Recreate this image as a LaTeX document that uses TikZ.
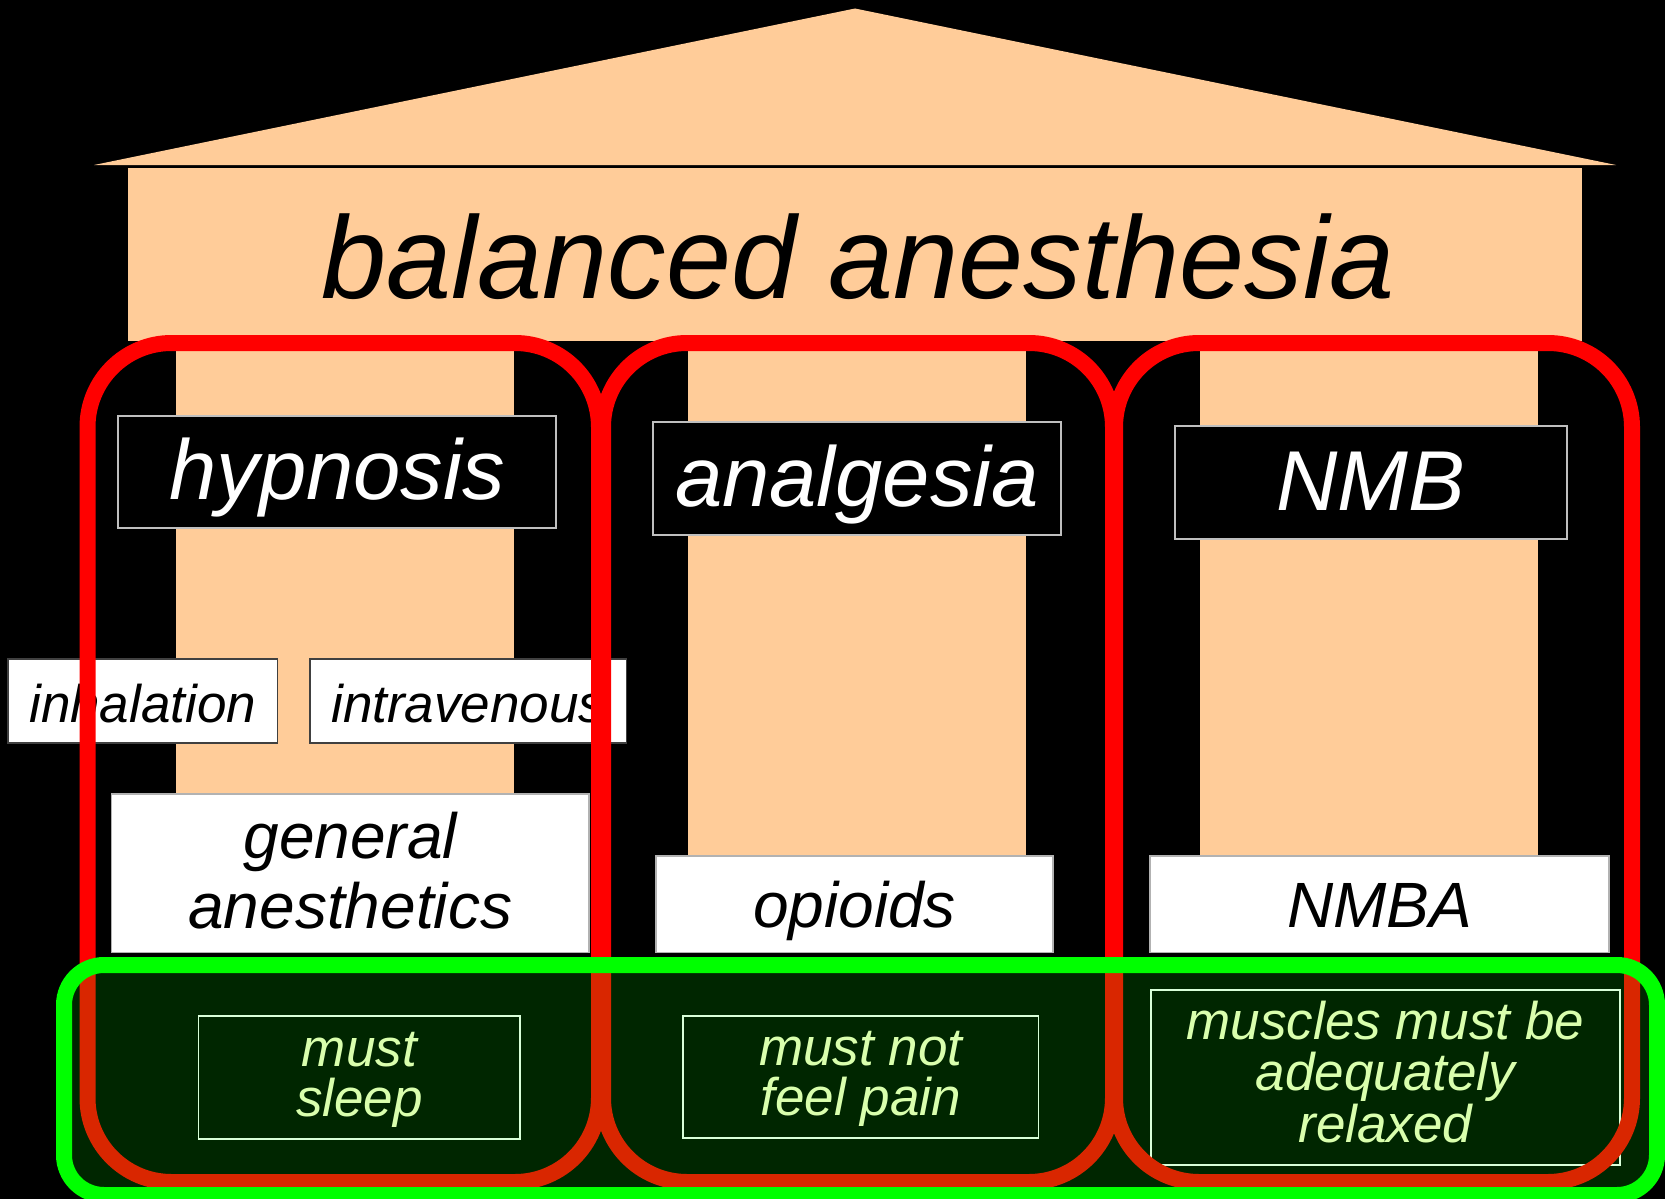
\documentclass[tikz,border=0pt]{standalone}
\usepackage{fontspec}
\setmainfont{Liberation Sans}
\newcommand\stacklines[1]{\vtop{\halign{\hfil##\hfil\cr#1\crcr}}}
\definecolor{peach}{HTML}{FFCC99}
\definecolor{paleyellow}{HTML}{FFFFCC}
\definecolor{lime}{HTML}{00FF00}
\definecolor{pureRed}{HTML}{FF0000}
\begin{document}
\begin{tikzpicture}[x=1pt,y=-1pt,
  pillar/.style={fill=peach},
  labelbox/.style={draw=gray!50!white, line width=1.5pt, fill=black, text=white,
    font=\fontsize{85}{90}\selectfont\itshape, inner sep=0pt,
    text height=60pt, text depth=5pt},
  routebox/.style={draw=black!75, line width=1.5pt, fill=white, text=black,
    font=\fontsize{53}{58}\selectfont\itshape, inner sep=0pt,
    text height=46pt, text depth=4pt},
  drugbox/.style={draw=gray!60, line width=1.5pt, fill=white, text=black,
    font=\fontsize{64}{70}\selectfont\itshape, inner sep=0pt},
  needbox/.style={draw=white, line width=1.5pt, text=paleyellow,
    font=\fontsize{53}{50}\selectfont\itshape, inner sep=0pt},
  redframe/.style={draw=pureRed, line width=16pt, rounded corners=84pt},
  greenframe/.style={draw=lime, line width=16pt, rounded corners=40pt,
    fill=lime, fill opacity=0.15, draw opacity=1}
]
\useasboundingbox (0,0) rectangle (1665,1199);
\fill[black] (0,0) rectangle (1665,1199);

% roof and entablature
\fill[pillar] (94,165) -- (855,8.5) -- (1616,165) -- cycle;
\fill[pillar] (127.5,168) rectangle (1582,341);
\node[anchor=base, inner sep=0pt, font=\fontsize{117}{120}\selectfont\itshape] (title) at (858,298) {balanced anesthesia};

% columns
\fill[pillar] (176,341) rectangle (514,794);
\fill[pillar] (688,341) rectangle (1026,856);
\fill[pillar] (1200,341) rectangle (1538,856);

% pillar labels
\node[labelbox, minimum width=438pt, minimum height=112pt] (hyp) at (337,472) {hypnosis};
\node[labelbox, minimum width=408pt, minimum height=113pt] (ana) at (857,478.5) {analgesia};
\node[labelbox, minimum width=392pt, minimum height=113pt] (nmb) at (1371,482.5) {NMB};

% routes
\node[routebox, minimum width=269.5pt, minimum height=84pt] (inh) at (142.75,701) {inhalation};
\node[routebox, minimum width=316.5pt, minimum height=84pt] (iv) at (468.25,701) {intravenous};

% drugs
\node[drugbox, minimum width=477.5pt, minimum height=158.5pt, text height=5pt, text depth=35.5pt] (gen) at (350.25,873.25) {\stacklines{general\cr anesthetics}};
\node[drugbox, minimum width=397pt, minimum height=96.5pt, text height=50pt, text depth=4.5pt] (opi) at (854.5,904.25) {opioids};
\node[drugbox, minimum width=459pt, minimum height=96.5pt, text height=50pt, text depth=4.5pt] (nmba) at (1379.5,904.25) {NMBA};

% needs
\node[needbox, minimum width=321.3pt, minimum height=123pt, text height=5pt, text depth=28pt] (sleep) at (359.35,1077.5) {\stacklines{must\cr sleep}};
\node[needbox, minimum width=355.5pt, minimum height=122pt, text height=5pt, text depth=29pt] (pain) at (860.75,1077) {\stacklines{must not\cr feel pain}};
\node[needbox, font=\fontsize{53}{51.5}\selectfont\itshape, minimum width=469pt, minimum height=175pt, text height=5pt, text depth=82pt] (relax) at (1385.5,1077.5) {\stacklines{muscles must be\cr adequately\cr relaxed}};

% red frames
\draw[redframe] (87.5,343) rectangle (599,1182);
\draw[redframe] (603,343) rectangle (1113,1182);
\draw[redframe] (1115,343) rectangle (1632,1182);

% green frame
\draw[greenframe] (64,965) rectangle (1657,1195);
\end{tikzpicture}
\end{document}
